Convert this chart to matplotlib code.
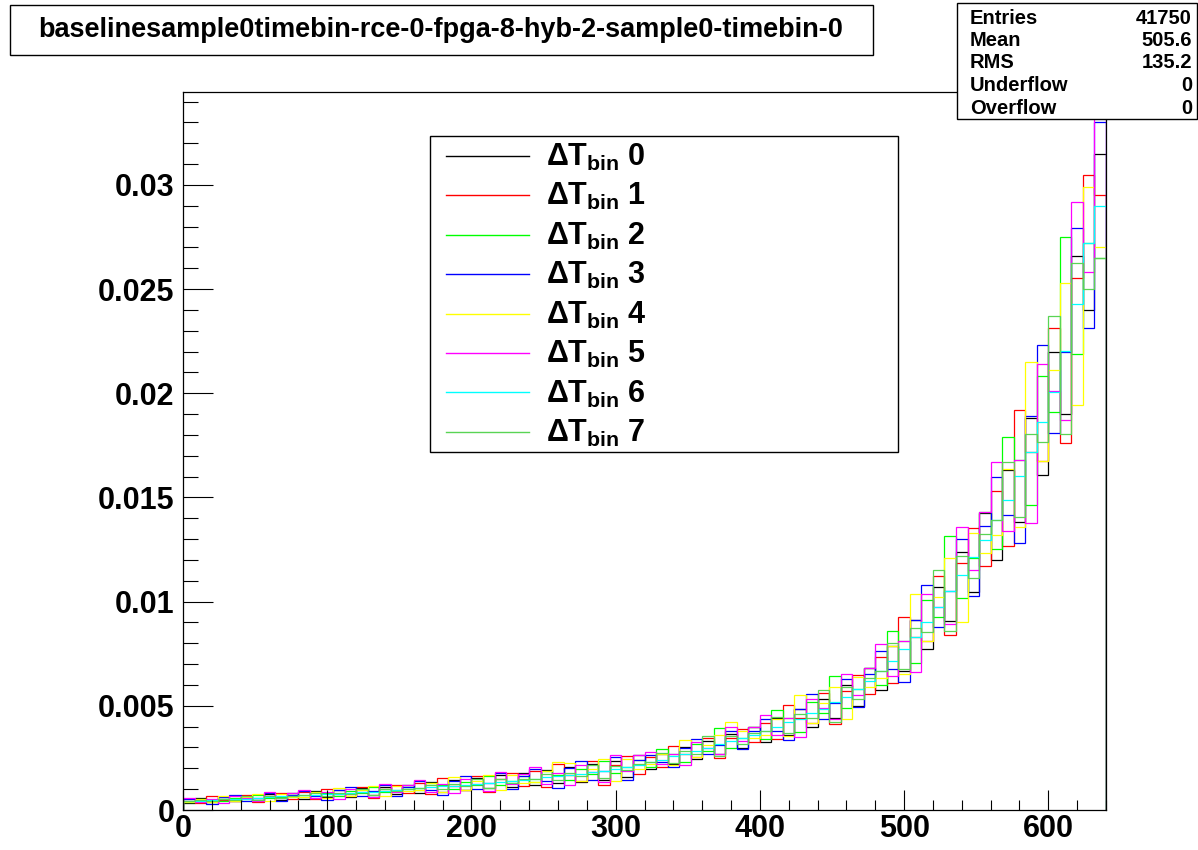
import numpy as np
import matplotlib
matplotlib.use('Agg')
import matplotlib.pyplot as plt
from matplotlib.patches import Rectangle
from matplotlib.lines import Line2D
from matplotlib.ticker import MultipleLocator, FuncFormatter

plt.rcParams['font.family'] = ['Liberation Sans', 'DejaVu Sans']
plt.rcParams['font.weight'] = 'bold'
plt.rcParams['mathtext.fontset'] = 'custom'
plt.rcParams['mathtext.rm'] = 'Liberation Sans:bold'
plt.rcParams['mathtext.it'] = 'Liberation Sans:bold'
plt.rcParams['mathtext.bf'] = 'Liberation Sans:bold'

# histogram binning (rebinned by 8 from the picture)
bin_width = 8
x_max = 640

# bin contents, units of 1e-5
dt0 = [32, 56, 38, 62, 42, 68, 46, 76, 50, 80,
       54, 90, 60, 98, 64, 104, 70, 112, 76, 122,
       82, 132, 88, 142, 94, 154, 104, 166, 112, 176,
       118, 190, 128, 204, 136, 220, 146, 236, 160, 262,
       196, 270, 220, 300, 244, 330, 270, 365, 296, 400,
       325, 440, 360, 485, 398, 535, 440, 600, 500, 680,
       575, 785, 665, 910, 775, 1070, 905, 1240, 1045, 1425,
       1200, 1630, 1380, 1880, 1610, 2200, 1900, 2660, 2400, 3150]
dt1 = [52, 32, 65, 50, 42, 73, 38, 68, 80, 54,
       88, 51, 103, 79, 66, 111, 58, 102, 121, 81,
       131, 76, 153, 117, 97, 164, 85, 150, 176, 117,
       189, 109, 219, 168, 139, 235, 122, 215, 258, 174,
       253, 207, 307, 270, 256, 344, 251, 347, 388, 327,
       418, 339, 503, 440, 417, 561, 412, 572, 650, 558,
       732, 608, 924, 830, 810, 1121, 840, 1187, 1355, 1170,
       1530, 1267, 1920, 1720, 1674, 2312, 1760, 2552, 3046, 2950]
dt2 = [38, 54, 50, 43, 59, 53, 74, 56, 64, 74,
       63, 88, 80, 67, 92, 81, 111, 84, 97, 111,
       95, 131, 119, 99, 136, 120, 164, 122, 141, 161,
       136, 187, 170, 143, 195, 172, 235, 176, 206, 240,
       207, 292, 269, 230, 318, 284, 393, 297, 346, 399,
       342, 479, 440, 374, 519, 464, 644, 491, 580, 682,
       599, 858, 809, 706, 1008, 926, 1313, 1017, 1210, 1430,
       1251, 1788, 1680, 1462, 2083, 1910, 2750, 2187, 2720, 2650]
dt3 = [55, 41, 31, 60, 72, 45, 59, 81, 45, 74,
       91, 66, 49, 95, 111, 68, 89, 121, 68, 111,
       137, 98, 73, 140, 163, 101, 131, 177, 99, 161,
       196, 140, 105, 202, 235, 145, 188, 254, 144, 240,
       265, 231, 205, 297, 341, 269, 314, 380, 294, 381,
       437, 379, 335, 484, 556, 439, 515, 627, 493, 651,
       765, 679, 616, 913, 1080, 878, 1050, 1300, 1029, 1365,
       1600, 1416, 1280, 1892, 2232, 1809, 2200, 2795, 2312, 3300]
dt4 = [38, 54, 36, 68, 42, 62, 77, 43, 77, 60,
       63, 88, 57, 107, 66, 94, 116, 65, 116, 91,
       95, 131, 85, 158, 97, 139, 170, 95, 169, 131,
       136, 187, 230, 227, 139, 199, 244, 137, 247, 196,
       219, 267, 218, 338, 256, 314, 361, 420, 381, 345,
       361, 439, 356, 550, 417, 512, 592, 436, 638, 589,
       632, 787, 655, 1038, 810, 1024, 1208, 904, 1331, 1235,
       1321, 1639, 1360, 2150, 1674, 2110, 2530, 1944, 2992, 2700]
dt5 = [57, 36, 53, 35, 66, 56, 41, 84, 58, 80,
       95, 58, 84, 55, 103, 85, 62, 126, 87, 121,
       142, 87, 124, 82, 151, 126, 92, 184, 127, 175,
       204, 125, 178, 118, 218, 181, 132, 263, 185, 262,
       276, 219, 269, 216, 327, 299, 267, 396, 329, 399,
       456, 359, 440, 352, 532, 488, 438, 654, 551, 682,
       798, 644, 809, 664, 1035, 975, 893, 1356, 1150, 1430,
       1668, 1341, 1680, 1376, 2139, 2010, 1870, 2916, 2584, 3600]
dt6 = [42, 44, 48, 51, 53, 55, 59, 62, 65, 67,
       70, 72, 76, 79, 82, 85, 88, 93, 97, 100,
       105, 109, 113, 116, 121, 126, 130, 136, 141, 145,
       151, 157, 161, 168, 174, 180, 188, 196, 205, 217,
       231, 242, 257, 269, 285, 298, 315, 329, 347, 362,
       381, 398, 420, 439, 464, 487, 516, 544, 581, 619,
       666, 713, 771, 828, 902, 973, 1052, 1128, 1212, 1298,
       1392, 1488, 1602, 1718, 1862, 2008, 2202, 2428, 2720, 2900]
dt7 = [42, 50, 42, 53, 50, 66, 48, 67, 59, 68,
       70, 82, 67, 83, 78, 100, 73, 100, 89, 103,
       105, 122, 99, 123, 115, 149, 107, 147, 130, 149,
       151, 175, 143, 176, 165, 214, 154, 211, 190, 222,
       230, 272, 225, 284, 270, 353, 257, 356, 318, 370,
       380, 447, 369, 462, 440, 576, 422, 589, 534, 632,
       665, 801, 678, 872, 855, 1151, 861, 1220, 1113, 1326,
       1390, 1669, 1408, 1806, 1767, 2372, 1804, 2624, 2502, 2650]

series = [dt0, dt1, dt2, dt3, dt4, dt5, dt6, dt7]
colors = ['#000000', '#ff0000', '#00ff00', '#0000ff',
          '#ffff00', '#ff00ff', '#00ffff', '#59d454']
labels = [r'$\Delta T_{bin}$ %d' % i for i in range(8)]

title = 'baselinesample0timebin-rce-0-fpga-8-hyb-2-sample0-timebin-0'
stats = [('Entries', '41750'), ('Mean', '505.6'), ('RMS', '135.2'),
         ('Underflow', '0'), ('Overflow', '0')]

W, H = 1198, 850
fig = plt.figure(figsize=(W / 100, H / 100), dpi=100)
ax = fig.add_axes([183 / W, 1 - 810 / H, (1106 - 183) / W, (810 - 92) / H])
ax.set_facecolor('none')

edges = np.arange(0, x_max + bin_width, bin_width)
for vals, c in zip(series, colors):
    ax.stairs(np.array(vals) * 1e-5, edges, baseline=0, color=c, lw=0.9)

ax.set_xlim(0, x_max)
ax.set_ylim(0, 0.03446)
ax.xaxis.set_major_locator(MultipleLocator(100))
ax.xaxis.set_minor_locator(MultipleLocator(20))
ax.yaxis.set_major_locator(MultipleLocator(0.005))
ax.yaxis.set_minor_locator(MultipleLocator(0.001))
ax.yaxis.set_major_formatter(FuncFormatter(lambda v, p: '%g' % round(v, 4)))
ax.tick_params(axis='x', which='major', direction='in', length=14.4, width=0.8,
               labelsize=22, pad=3)
ax.tick_params(axis='x', which='minor', direction='in', length=7.2, width=0.8)
ax.tick_params(axis='y', which='major', direction='in', length=21.6, width=0.8,
               labelsize=22, pad=6)
ax.tick_params(axis='y', which='minor', direction='in', length=10.8, width=0.8)
for lab in ax.get_xticklabels() + ax.get_yticklabels():
    lab.set_fontweight('bold')
for s in ax.spines.values():
    s.set_linewidth(0.9)

# title box
fig.patches.append(Rectangle((10 / W, 1 - 55 / H), 863 / W, 50 / H,
                             transform=fig.transFigure, facecolor='white',
                             edgecolor='black', lw=1.0, zorder=5))
fig.text(441 / W, 1 - 30 / H, title, ha='center', va='center',
         fontsize=19.5, fontweight='bold', zorder=6)

# stats box
fig.patches.append(Rectangle((957 / W, 1 - 119 / H), 240 / W, 116 / H,
                             transform=fig.transFigure, facecolor='white',
                             edgecolor='black', lw=1.0, zorder=5))
for i, (k, v) in enumerate(stats):
    y = 1 - (18 + i * 22.5) / H
    fig.text(970 / W, y, k, ha='left', va='center', fontsize=14.5,
             fontweight='bold', zorder=6)
    fig.text(1192 / W, y, v, ha='right', va='center', fontsize=14.5,
             fontweight='bold', zorder=6)

# legend box
fig.patches.append(Rectangle((430 / W, 1 - 452 / H), 468 / W, 316 / H,
                             transform=fig.transFigure, facecolor='white',
                             edgecolor='black', lw=1.0, zorder=5))
for i, (c, lab) in enumerate(zip(colors, labels)):
    y = 156 + i * 39.4
    fig.lines.append(Line2D([446 / W, 529 / W], [1 - y / H, 1 - y / H],
                            transform=fig.transFigure, color=c, lw=1.0, zorder=6))
    fig.text(546 / W, 1 - (y + 10) / H, lab, ha='left', va='baseline',
             fontsize=22, fontweight='bold', zorder=6)

fig.savefig('out.png', dpi=100)
